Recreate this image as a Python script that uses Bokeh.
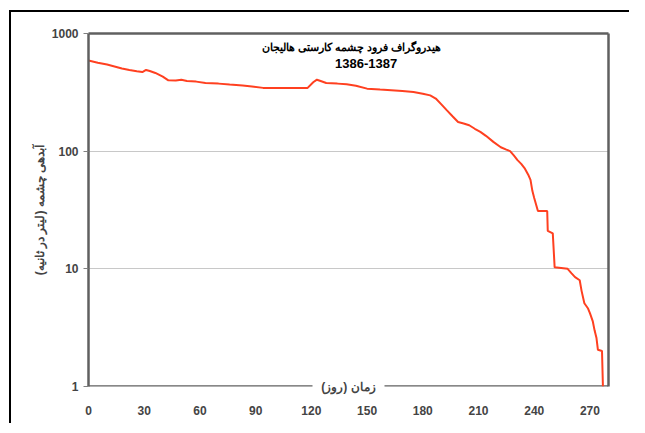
from bokeh.plotting import figure
from bokeh.models import (Label, LinearAxis, LogAxis, FixedTicker, Range1d,
                          NumeralTickFormatter, Arrow)
from bokeh.embed import file_html
from bokeh.resources import INLINE

# ---- data ----
days = [0, 5, 10, 15, 18, 22, 26, 29, 31, 33, 36, 40, 43, 47, 50, 53, 58, 63,
        70, 76, 83, 88, 94, 100, 110, 118, 121, 123, 125, 128, 134, 139, 144,
        150, 157, 163, 169, 175, 180, 184, 187, 190, 193, 196, 199, 202, 205,
        208, 211, 214, 218, 222, 225, 227, 229, 231, 233, 235, 237, 238, 239,
        240, 242, 247, 247.3, 250, 251, 258, 260, 262, 264.5, 265.5, 267, 269,
        270, 271.5, 272.5, 273.5, 274.3, 276.5, 277]
discharge = [590, 565, 545, 520, 505, 490, 478, 470, 490, 480, 462, 430, 400,
             398, 404, 395, 390, 380, 375, 368, 362, 355, 345, 345, 345, 345,
             385, 405, 395, 380, 375, 370, 360, 340, 334, 330, 324, 318, 308,
             298, 280, 250, 222, 198, 177, 172, 166, 155, 146, 135, 120, 108,
             103, 100, 92, 84, 78, 71, 62, 57, 46, 40, 31, 31, 21, 20, 10.3, 10,
             9.2, 8.5, 8, 6.5, 5.1, 4.6, 4.2, 3.6, 3.0, 2.6, 2.05, 2, 1]

x_ticks = [0, 30, 60, 90, 120, 150, 180, 210, 240, 270]
y_ticks = [1, 10, 100, 1000]
grid_ticks = [10, 100]

title_line1 = "هیدروگراف فرود چشمه کارستی هالیجان"
title_line2 = "1386-1387"
x_label = "زمان (روز)"
y_label = "آبدهی چشمه (لیتر در ثانیه)"

FONT = "Liberation Sans"
FRAME = "#606060"

FRAME_W = 519                    # px width of the plotting frame
GAP_LEFT, GAP_RIGHT = 224, 296   # px (from frame left) where the x title breaks the line

p = figure(width=620, height=413, y_axis_type="log",
           x_range=Range1d(0, 280), y_range=Range1d(1, 1000),
           output_backend="svg", toolbar_location=None,
           min_border_left=77, min_border_top=21, min_border_right=23,
           min_border_bottom=39)
p.margin = (10, 0, 0, 9)
p.styles = {"border-left": "2px solid black", "border-top": "2px solid black"}
p.outline_line_color = None
p.background_fill_color = "white"
p.border_fill_color = "white"

# grid
p.xgrid.visible = False
p.ygrid.ticker = FixedTicker(ticks=grid_ticks)
p.ygrid.grid_line_color = "#c8c8c8"
p.ygrid.grid_line_width = 1

# y axis
ya = p.yaxis[0]
ya.ticker = FixedTicker(ticks=y_ticks)
ya.formatter = NumeralTickFormatter(format="0")
ya.axis_line_color = FRAME
ya.axis_line_width = 2.5
ya.major_tick_out = 5
ya.major_tick_in = 0
ya.major_tick_line_color = "#808080"
ya.minor_tick_line_color = None
ya.major_label_text_font = FONT
ya.major_label_text_font_style = "bold"
ya.major_label_text_font_size = "12px"
ya.major_label_standoff = 5
ya.axis_label = y_label
ya.axis_label_text_font = FONT
ya.axis_label_text_font_style = "bold"
ya.axis_label_text_font_size = "12px"
ya.axis_label_standoff = 2

# x axis tick labels
xa = p.xaxis[0]
xa.ticker = FixedTicker(ticks=x_ticks)
xa.axis_line_color = None
xa.major_tick_out = 0
xa.major_tick_in = 0
xa.minor_tick_line_color = None
xa.major_label_text_font = FONT
xa.major_label_text_font_style = "bold"
xa.major_label_text_font_size = "12px"
xa.major_label_standoff = 9

# x axis title: an axis of its own, closest to the frame, title pulled onto the line
lab_ax = LinearAxis(ticker=FixedTicker(ticks=[]), axis_line_color=None,
                    major_tick_line_color=None, minor_tick_line_color=None,
                    major_label_text_color=None, axis_label=x_label,
                    axis_label_standoff=-7, axis_label_text_font=FONT,
                    axis_label_text_font_style="bold",
                    axis_label_text_font_size="12px")
p.add_layout(lab_ax, "below")
p.below = [lab_ax, xa]

# frame lines on the other sides
ra = LogAxis(ticker=FixedTicker(ticks=[]), axis_line_color=FRAME, axis_line_width=2.5,
             major_tick_line_color=None, minor_tick_line_color=None,
             major_label_text_color=None)
p.add_layout(ra, "right")
ta = LinearAxis(ticker=FixedTicker(ticks=[]), axis_line_color=FRAME, axis_line_width=2.5,
                major_tick_line_color=None, minor_tick_line_color=None,
                major_label_text_color=None)
p.add_layout(ta, "above")
for xs, xe in [(-1, GAP_LEFT), (GAP_RIGHT, FRAME_W + 1)]:
    p.add_layout(Arrow(end=None, start=None, x_start=xs, y_start=0, x_end=xe, y_end=0,
                       start_units="screen", end_units="screen",
                       line_color=FRAME, line_width=2.5, level="underlay"))

# data line
p.line(days, discharge, line_color="#ff4020", line_width=2)

# titles inside the frame
p.add_layout(Label(x=141.5, y=775, text=title_line1, text_align="center",
                   text_baseline="middle", text_font=FONT, text_font_style="bold",
                   text_font_size="10.5px", text_color="black"))
p.add_layout(Label(x=149.5, y=556, text=title_line2, text_align="center",
                   text_baseline="middle", text_font=FONT, text_font_style="bold",
                   text_font_size="13px", text_color="black"))

open("out.html", "w").write(file_html(p, INLINE))
